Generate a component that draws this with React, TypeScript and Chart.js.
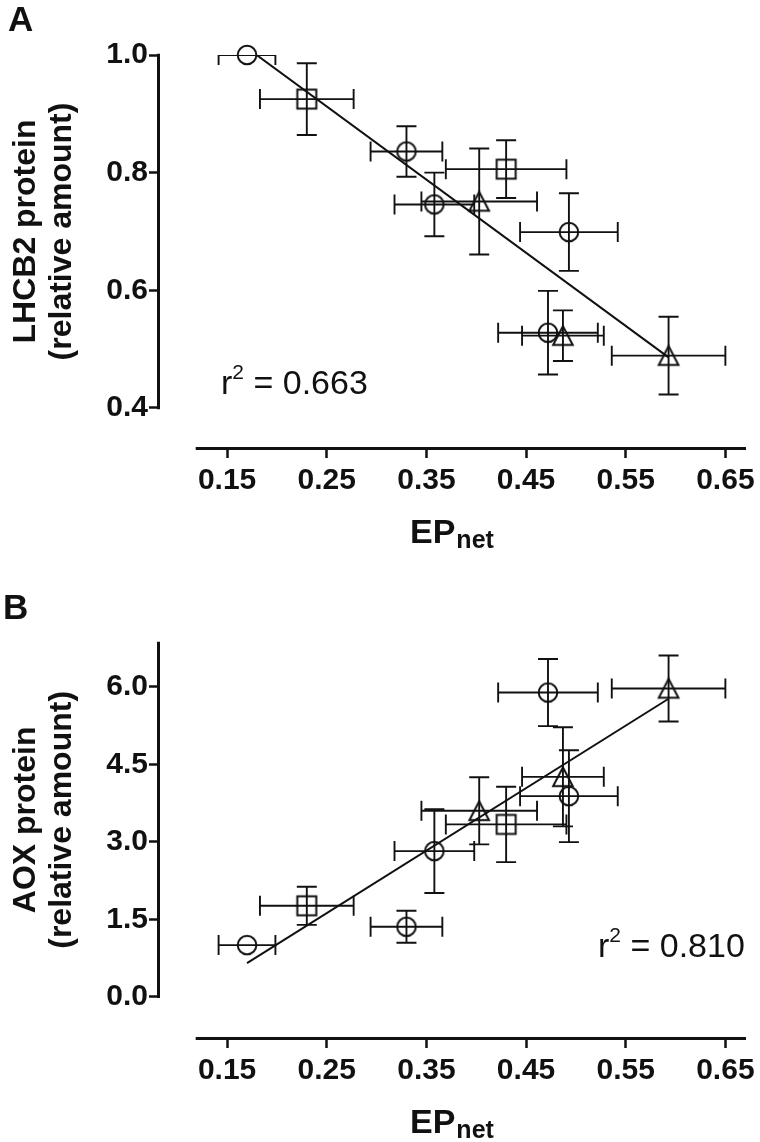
import React, { useEffect, useRef } from "react";
import { Chart, registerables } from "chart.js";

Chart.register(...registerables);

const FONT = '"Liberation Sans", Arial, Helvetica, sans-serif';
const INK = "#111111";

// EPnet (x) values and their SD, grouped by marker shape (shared by both panels)
const CIRCLE_X = [0.17, 0.33, 0.358, 0.472, 0.493];
const CIRCLE_XERR = [0.0285, 0.036, 0.04, 0.05, 0.049];
const SQUARE_X = [0.23, 0.43];
const SQUARE_XERR = [0.047, 0.0605];
const TRIANGLE_X = [0.403, 0.487, 0.593];
const TRIANGLE_XERR = [0.058, 0.041, 0.057];

const X_TICKS = [0.15, 0.25, 0.35, 0.45, 0.55, 0.65];
const X_AXIS_START = 0.1185;
const X_MIN = 0.0827;
const X_MAX = 0.6707;
const FIT_X = [0.17, 0.593];

// Panel A: LHCB2 protein
const A_CIRCLE_Y = [1.0, 0.836, 0.746, 0.528, 0.699];
const A_CIRCLE_YERR = [0, 0.043, 0.054, 0.071, 0.066];
const A_SQUARE_Y = [0.925, 0.806];
const A_SQUARE_YERR = [0.061, 0.049];
const A_TRIANGLE_Y = [0.751, 0.523, 0.489];
const A_TRIANGLE_YERR = [0.09, 0.043, 0.066];
const A_FIT_Y = [1.012, 0.486];
const A_Y_TICKS = [0.4, 0.6, 0.8, 1.0];
const A_Y_AXIS = [0.4, 1.0];
const A_Y_MIN = 0.3337;
const A_Y_MAX = 1.0;
const A_R2 = "0.663";

// Panel B: AOX protein
const B_CIRCLE_Y = [1.0, 1.355, 2.82, 5.891, 3.884];
const B_CIRCLE_YERR = [0, 0.31, 0.81, 0.65, 0.89];
const B_SQUARE_Y = [1.761, 3.337];
const B_SQUARE_YERR = [0.37, 0.73];
const B_TRIANGLE_Y = [3.6, 4.258, 5.969];
const B_TRIANGLE_YERR = [0.65, 0.96, 0.64];
const B_FIT_Y = [0.65, 5.77];
const B_Y_TICKS = [0, 1.5, 3.0, 4.5, 6.0];
const B_Y_AXIS = [0, 6.85];
const B_Y_MIN = -0.78;
const B_Y_MAX = 6.85;
const B_R2 = "0.810";

type Panel = {
  letter: string;
  letterX: number;
  letterY: number;
  titleLines: string[];
  circleY: number[];
  circleYErr: number[];
  squareY: number[];
  squareYErr: number[];
  triangleY: number[];
  triangleYErr: number[];
  fitY: number[];
  yTicks: number[];
  yAxis: number[];
  yMin: number;
  yMax: number;
  r2: string;
  r2X: number;
  r2Y: number;
  padTop: number;
  xScaleHeight: number;
};

const PANEL_A: Panel = {
  letter: "A",
  letterX: 8,
  letterY: 31,
  titleLines: ["LHCB2 protein", "(relative amount)"],
  circleY: A_CIRCLE_Y,
  circleYErr: A_CIRCLE_YERR,
  squareY: A_SQUARE_Y,
  squareYErr: A_SQUARE_YERR,
  triangleY: A_TRIANGLE_Y,
  triangleYErr: A_TRIANGLE_YERR,
  fitY: A_FIT_Y,
  yTicks: A_Y_TICKS,
  yAxis: A_Y_AXIS,
  yMin: A_Y_MIN,
  yMax: A_Y_MAX,
  r2: A_R2,
  r2X: 221,
  r2Y: 394,
  padTop: 55,
  xScaleHeight: 124,
};

const PANEL_B: Panel = {
  letter: "B",
  letterX: 3,
  letterY: 48,
  titleLines: ["AOX protein", "(relative amount)"],
  circleY: B_CIRCLE_Y,
  circleYErr: B_CIRCLE_YERR,
  squareY: B_SQUARE_Y,
  squareYErr: B_SQUARE_YERR,
  triangleY: B_TRIANGLE_Y,
  triangleYErr: B_TRIANGLE_YERR,
  fitY: B_FIT_Y,
  yTicks: B_Y_TICKS,
  yAxis: B_Y_AXIS,
  yMin: B_Y_MIN,
  yMax: B_Y_MAX,
  r2: B_R2,
  r2X: 598,
  r2Y: 386,
  padTop: 72,
  xScaleHeight: 105,
};

function makeMarker(shape: string): HTMLCanvasElement {
  const c = document.createElement("canvas");
  c.width = 26;
  c.height = 26;
  const g = c.getContext("2d")!;
  g.strokeStyle = INK;
  g.lineWidth = 2;
  g.beginPath();
  const m = 13;
  if (shape === "circle") {
    g.arc(m, m, 9.3, 0, Math.PI * 2);
  } else if (shape === "square") {
    g.rect(m - 9.5, m - 9.5, 19, 19);
  } else {
    g.moveTo(m, m - 9.5);
    g.lineTo(m + 9.8, m + 9.3);
    g.lineTo(m - 9.8, m + 9.3);
    g.closePath();
  }
  g.stroke();
  return c;
}

function buildChart(canvas: HTMLCanvasElement, p: Panel): Chart {
  const markers = {
    circle: makeMarker("circle"),
    square: makeMarker("square"),
    triangle: makeMarker("triangle"),
  };
  const pts = (xs: number[], ys: number[]) => xs.map((xv, i) => ({ x: xv, y: ys[i] }));

  const CAP = 10;

  const errorBars = {
    id: "errorBars",
    beforeDatasetsDraw(chart: any) {
      const { ctx, chartArea } = chart;
      const xs = chart.scales.x;
      const ys = chart.scales.y;
      const left = xs.getPixelForValue(X_AXIS_START);
      const top = ys.getPixelForValue(p.yAxis[1]);
      const bottom = ys.getPixelForValue(p.yAxis[0]);
      ctx.save();
      ctx.beginPath();
      ctx.rect(left, top, chartArea.right - left, bottom - top);
      ctx.clip();
      ctx.strokeStyle = INK;
      ctx.lineWidth = 1.9;
      chart.data.datasets.forEach((ds: any) => {
        if (!ds.xErr) return;
        ds.data.forEach((d: any, i: number) => {
          const cx = xs.getPixelForValue(d.x);
          const cy = ys.getPixelForValue(d.y);
          const xe = ds.xErr[i] || 0;
          const ye = ds.yErr[i] || 0;
          ctx.beginPath();
          if (xe > 0) {
            const l = xs.getPixelForValue(d.x - xe);
            const r = xs.getPixelForValue(d.x + xe);
            ctx.moveTo(l, cy);
            ctx.lineTo(r, cy);
            ctx.moveTo(l, cy - CAP);
            ctx.lineTo(l, cy + CAP);
            ctx.moveTo(r, cy - CAP);
            ctx.lineTo(r, cy + CAP);
          }
          if (ye > 0) {
            const t = ys.getPixelForValue(d.y + ye);
            const b = ys.getPixelForValue(d.y - ye);
            ctx.moveTo(cx, t);
            ctx.lineTo(cx, b);
            ctx.moveTo(cx - CAP, t);
            ctx.lineTo(cx + CAP, t);
            ctx.moveTo(cx - CAP, b);
            ctx.lineTo(cx + CAP, b);
          }
          ctx.stroke();
        });
      });
      ctx.restore();
    },
  };

  const axesAndText = {
    id: "axesAndText",
    afterDraw(chart: any) {
      const { ctx, chartArea } = chart;
      const xs = chart.scales.x;
      const ys = chart.scales.y;
      ctx.save();
      ctx.strokeStyle = INK;
      ctx.lineWidth = 3;
      ctx.lineCap = "butt";
      // y axis line (offset Prism style)
      ctx.beginPath();
      ctx.moveTo(chartArea.left - 1.5, ys.getPixelForValue(p.yAxis[1]) - 1.25);
      ctx.lineTo(chartArea.left - 1.5, ys.getPixelForValue(p.yAxis[0]) + 1.25);
      ctx.stroke();
      // x axis line
      ctx.beginPath();
      ctx.moveTo(xs.getPixelForValue(X_AXIS_START), chartArea.bottom + 1.5);
      ctx.lineTo(xs.getPixelForValue(X_MAX), chartArea.bottom + 1.5);
      ctx.stroke();

      ctx.fillStyle = INK;
      // panel letter
      ctx.font = `bold 35px ${FONT}`;
      ctx.textAlign = "left";
      ctx.textBaseline = "alphabetic";
      ctx.fillText(p.letter, p.letterX, p.letterY);

      // y title
      const cy = (ys.getPixelForValue(p.yAxis[0]) + ys.getPixelForValue(p.yAxis[1])) / 2;
      const lineX = [26, 62];
      ctx.font = `bold 32px ${FONT}`;
      ctx.textAlign = "center";
      ctx.textBaseline = "middle";
      p.titleLines.forEach((t, i) => {
        ctx.save();
        ctx.translate(lineX[i], cy);
        ctx.rotate(-Math.PI / 2);
        ctx.fillText(t, 0, 0);
        ctx.restore();
      });

      // x title EP_net
      ctx.textAlign = "left";
      ctx.textBaseline = "alphabetic";
      const baseY = chartArea.bottom + 96;
      ctx.font = `bold 34px ${FONT}`;
      const epW = ctx.measureText("EP").width;
      ctx.fillText("EP", 410, baseY);
      ctx.font = `bold 25px ${FONT}`;
      ctx.fillText("net", 410 + epW + 1, baseY + 5);

      // r^2 annotation
      ctx.font = `34px ${FONT}`;
      let x = p.r2X;
      ctx.fillText("r", x, p.r2Y);
      x += ctx.measureText("r").width;
      ctx.font = `21px ${FONT}`;
      ctx.fillText("2", x, p.r2Y - 15);
      x += ctx.measureText("2").width;
      ctx.font = `34px ${FONT}`;
      ctx.fillText(" = " + p.r2, x, p.r2Y);
      ctx.restore();
    },
  };

  return new Chart(canvas, {
    type: "scatter",
    data: {
      datasets: [
        {
          label: "circles",
          data: pts(CIRCLE_X, p.circleY),
          xErr: CIRCLE_XERR,
          yErr: p.circleYErr,
          pointStyle: markers.circle,
          pointRadius: 10,
          clip: false,
        } as any,
        {
          label: "squares",
          data: pts(SQUARE_X, p.squareY),
          xErr: SQUARE_XERR,
          yErr: p.squareYErr,
          pointStyle: markers.square,
          pointRadius: 10,
          clip: false,
        } as any,
        {
          label: "triangles",
          data: pts(TRIANGLE_X, p.triangleY),
          xErr: TRIANGLE_XERR,
          yErr: p.triangleYErr,
          pointStyle: markers.triangle,
          pointRadius: 10,
          clip: false,
        } as any,
        {
          label: "fit",
          data: pts(FIT_X, p.fitY),
          showLine: true,
          borderColor: INK,
          borderWidth: 2,
          pointRadius: 0,
          fill: false,
        } as any,
      ],
    },
    options: {
      animation: false,
      responsive: false,
      devicePixelRatio: 1,
      events: [],
      layout: { padding: { top: p.padTop, right: 12, left: 0, bottom: 0 } },
      plugins: {
        legend: { display: false },
        tooltip: { enabled: false },
        title: { display: false },
      },
      scales: {
        x: {
          type: "linear",
          min: X_MIN,
          max: X_MAX,
          afterBuildTicks: (s: any) => {
            s.ticks = X_TICKS.map((v) => ({ value: v }));
          },
          afterFit: (s: any) => {
            s.height = p.xScaleHeight;
          },
          grid: {
            display: true,
            drawOnChartArea: false,
            drawTicks: true,
            tickLength: 11,
            tickWidth: 2.5,
            tickColor: INK,
          },
          border: { display: false },
          ticks: {
            color: INK,
            font: { family: FONT, size: 30, weight: "bold" },
            padding: 5,
            autoSkip: false,
            maxRotation: 0,
            callback: (v: any) => Number(v).toFixed(2),
          },
        },
        y: {
          type: "linear",
          min: p.yMin,
          max: p.yMax,
          afterBuildTicks: (s: any) => {
            s.ticks = p.yTicks.map((v) => ({ value: v }));
          },
          afterFit: (s: any) => {
            s.width = 160;
          },
          grid: {
            display: true,
            drawOnChartArea: false,
            drawTicks: true,
            tickLength: 11,
            tickWidth: 2.5,
            tickColor: INK,
          },
          border: { display: false },
          ticks: {
            color: INK,
            font: { family: FONT, size: 30, weight: "bold" },
            padding: 1,
            autoSkip: false,
            callback: (v: any) => Number(v).toFixed(1),
          },
        },
      },
    } as any,
    plugins: [errorBars, axesAndText],
  });
}

function PanelChart({ panel }: { panel: Panel }) {
  const ref = useRef<HTMLCanvasElement | null>(null);
  useEffect(() => {
    if (!ref.current) return;
    const chart = buildChart(ref.current, panel);
    return () => chart.destroy();
  }, [panel]);
  return <canvas ref={ref} width={760} height={571} style={{ display: "block", width: 760, height: 571 }} />;
}

export default function App() {
  return (
    <div style={{ position: "absolute", left: 0, top: 0, width: 760, height: 1142, background: "#fff" }}>
      <PanelChart panel={PANEL_A} />
      <PanelChart panel={PANEL_B} />
    </div>
  );
}
